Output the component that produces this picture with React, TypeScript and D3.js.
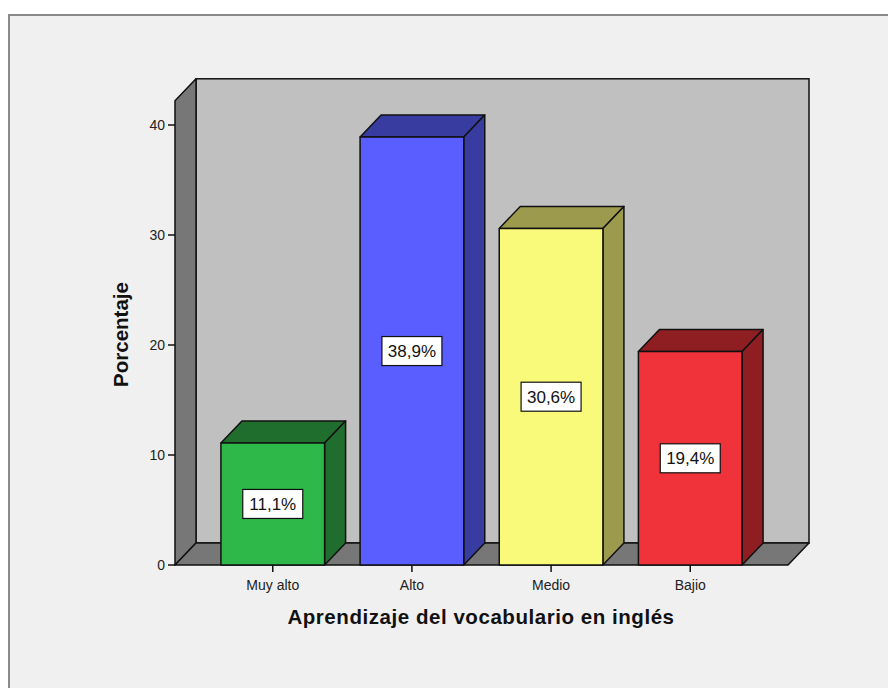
import React from 'react';
import * as d3 from 'd3';

const categories = ['Muy alto', 'Alto', 'Medio', 'Bajio'];
const percents = [11.1, 38.9, 30.6, 19.4];
const labels = ['11,1%', '38,9%', '30,6%', '19,4%'];
const frontColors = ['#2eb84a', '#5a5eff', '#fafa7a', '#f0323a'];
const darkColors = ['#1f6e2e', '#383ba0', '#9c9a4c', '#8e1e22'];
const yTicks = [0, 10, 20, 30, 40];
const yAxisMax = 42.2;

const W = 888;
const H = 688;
const DX = 21;
const DY = 22;
const FONT = '"Liberation Sans", Arial, sans-serif';

const App: React.FC = () => {
  const x0 = 175;
  const x1 = 788;
  const y = d3.scaleLinear().domain([0, 40]).range([565, 125]);
  const x = d3.scaleBand<string>()
    .domain(categories)
    .range([x0, x1])
    .paddingInner(0.255)
    .paddingOuter(0.33);
  const bw = x.bandwidth();
  const yb = y(0);
  const yt = y(yAxisMax);

  const pts = (p: [number, number][]) => p.map(d => d.join(',')).join(' ');

  return (
    <div style={{ position: 'absolute', left: 0, top: 0 }}>
      <svg width={W} height={H} viewBox={`0 0 ${W} ${H}`} style={{ display: 'block' }}>
        <rect x={0} y={0} width={W} height={H} fill="#ffffff" />
        <rect x={9} y={15} width={W + 20} height={H + 20} fill="#f0f0f0" stroke="#8a8a8a" strokeWidth={2} />

        {/* walls */}
        <rect x={x0 + DX} y={yt - DY} width={x1 - x0} height={yb - yt} fill="#c0c0c0" stroke="#111" strokeWidth={1.5} />
        <polygon points={pts([[x0, yb], [x0, yt], [x0 + DX, yt - DY], [x0 + DX, yb - DY]])}
          fill="#777777" stroke="#111" strokeWidth={1.5} strokeLinejoin="round" />
        <polygon points={pts([[x0, yb], [x0 + DX, yb - DY], [x1 + DX, yb - DY], [x1, yb]])}
          fill="#777777" stroke="#111" strokeWidth={1.5} strokeLinejoin="round" />

        {/* y axis */}
        {yTicks.map(t => (
          <g key={t}>
            <line x1={x0 - 7} x2={x0} y1={y(t)} y2={y(t)} stroke="#111" strokeWidth={1.5} />
            <text x={x0 - 10} y={y(t)} dy="0.35em" textAnchor="end" fontFamily={FONT} fontSize={14} fill="#222">{t}</text>
          </g>
        ))}
        <text transform={`translate(128,${334.5}) rotate(-90)`} textAnchor="middle"
          fontFamily={FONT} fontSize={20.5} fontWeight="bold" fill="#111">Porcentaje</text>

        {/* bars */}
        {categories.map((c, i) => {
          const bx = x(c) as number;
          const yv = y(percents[i]);
          return (
            <g key={c} stroke="#111" strokeWidth={1.5} strokeLinejoin="round">
              <polygon points={pts([[bx, yv], [bx + DX, yv - DY], [bx + bw + DX, yv - DY], [bx + bw, yv]])} fill={darkColors[i]} />
              <polygon points={pts([[bx + bw, yv], [bx + bw + DX, yv - DY], [bx + bw + DX, yb - DY], [bx + bw, yb]])} fill={darkColors[i]} />
              <rect x={bx} y={yv} width={bw} height={yb - yv} fill={frontColors[i]} />
            </g>
          );
        })}

        {/* value labels */}
        {categories.map((c, i) => {
          const cx = (x(c) as number) + bw / 2;
          const cy = (y(percents[i]) + yb) / 2;
          return (
            <g key={c + '-lab'}>
              <rect x={cx - 30} y={cy - 14.5} width={60} height={29} fill="#ffffff" stroke="#111" strokeWidth={1.2} />
              <text x={cx} y={cy} dy="0.36em" textAnchor="middle" fontFamily={FONT} fontSize={17} fill="#111">{labels[i]}</text>
            </g>
          );
        })}

        {/* x axis */}
        {categories.map(c => {
          const cx = (x(c) as number) + bw / 2;
          return (
            <g key={c + '-tick'}>
              <line x1={cx} x2={cx} y1={yb} y2={yb + 7} stroke="#111" strokeWidth={1.5} />
              <text x={cx} y={590} textAnchor="middle" fontFamily={FONT} fontSize={14} fill="#222">{c}</text>
            </g>
          );
        })}
        <text x={481} y={624} textAnchor="middle" fontFamily={FONT} fontSize={20.5} fontWeight="bold"
          letterSpacing={0.55} fill="#111">Aprendizaje del vocabulario en inglés</text>
      </svg>
    </div>
  );
};

export default App;
